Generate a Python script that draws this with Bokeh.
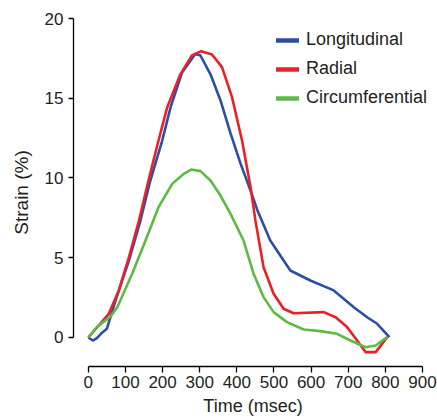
from bokeh.plotting import figure
from bokeh.models import Range1d, Legend, LegendItem
from bokeh.embed import file_html
from bokeh.resources import INLINE

# Data
long_t = [0, 12, 23, 37, 50, 73, 109, 140, 167, 199, 221, 252, 288, 302, 329, 356, 383, 410, 437, 455, 490, 544, 598, 661, 715, 751, 778, 811]
long_s = [0, -0.19, -0.04, 0.3, 0.55, 2.3, 4.8, 7.3, 9.84, 12.35, 14.4, 16.6, 17.78, 17.68, 16.5, 14.86, 12.8, 10.9, 9.2, 8.0, 6.08, 4.2, 3.57, 2.95, 1.9, 1.27, 0.86, 0.02]

rad_t = [0, 32, 55, 82, 109, 136, 162, 189, 212, 248, 279, 304, 333, 360, 387, 414, 437, 450, 472, 499, 526, 553, 634, 666, 697, 724, 747, 774, 805]
rad_s = [0, 0.86, 1.48, 2.95, 5.0, 7.3, 9.84, 12.35, 14.4, 16.5, 17.68, 17.95, 17.74, 16.95, 15.07, 12.35, 9.42, 7.34, 4.4, 2.74, 1.8, 1.52, 1.59, 1.27, 0.65, -0.19, -0.92, -0.92, 0.02]

circ_t = [0, 23, 59, 78, 118, 154, 189, 226, 257, 277, 302, 329, 356, 383, 418, 445, 472, 499, 535, 580, 625, 670, 706, 747, 774, 805]
circ_s = [0, 0.65, 1.3, 1.9, 4.0, 6.08, 8.17, 9.63, 10.26, 10.53, 10.43, 9.84, 8.9, 7.75, 6.08, 4.0, 2.53, 1.59, 0.96, 0.5, 0.4, 0.23, -0.19, -0.61, -0.5, 0.02]

series_names = ["Longitudinal", "Radial", "Circumferential"]
series_colors = ["#2b4ea6", "#ec1f26", "#5cbb45"]
x_ticks = [0, 100, 200, 300, 400, 500, 600, 700, 800, 900]
y_ticks = [0, 5, 10, 15, 20]

FONT = "Liberation Sans"
TXT = "#231f20"

p = figure(width=437, height=419, output_backend="svg", toolbar_location=None,
           x_range=Range1d(-40, 927), y_range=Range1d(-1.82, 20),
           min_border_left=73, min_border_right=5, min_border_top=18, min_border_bottom=53)
p.outline_line_color = None
p.grid.visible = False
p.background_fill_color = "white"

series = [(long_t, long_s), (rad_t, rad_s), (circ_t, circ_s)]
legend_items = []
for (t, s), name, col in zip(series, series_names, series_colors):
    key = p.line(t, s, line_color=col, line_width=4.5, line_cap="round", visible=False)
    p.line(t, s, line_color=col, line_width=2.6, line_join="round")
    legend_items.append(LegendItem(label=name, renderers=[key]))

legend = Legend(items=legend_items, location=(203, 258), padding=0, margin=0,
                spacing=8, glyph_width=23, glyph_height=20, label_height=20,
                label_standoff=7, label_text_font=FONT, label_text_font_size="18px",
                label_text_color=TXT, border_line_alpha=0, background_fill_alpha=0,
                inactive_fill_alpha=0)
p.add_layout(legend)

for ax in (p.xaxis[0], p.yaxis[0]):
    ax.axis_line_width = 1.3
    ax.axis_line_color = "black"
    ax.major_tick_line_width = 1.3
    ax.major_tick_line_color = "black"
    ax.minor_tick_line_color = None
    ax.major_tick_in = 0
    ax.major_tick_out = 6
    ax.major_label_text_font = FONT
    ax.major_label_text_font_size = "17px"
    ax.major_label_text_color = TXT
    ax.axis_label_text_font = FONT
    ax.axis_label_text_font_style = "normal"
    ax.axis_label_text_color = TXT

p.xaxis.ticker = x_ticks
p.yaxis.ticker = y_ticks
p.xaxis.bounds = (0, 900)
p.yaxis.bounds = (0, 20)
p.xaxis.axis_label = "Time (msec)"
p.yaxis.axis_label = "Strain (%)"
p.xaxis.axis_label_text_font_size = "18px"
p.yaxis.axis_label_text_font_size = "19px"
p.xaxis.major_label_standoff = 3
p.xaxis.axis_label_standoff = 5
p.yaxis.major_label_standoff = 5
p.yaxis.axis_label_standoff = 10
p.yaxis.major_tick_out = 5

open("out.html", "w").write(file_html(p, INLINE))
